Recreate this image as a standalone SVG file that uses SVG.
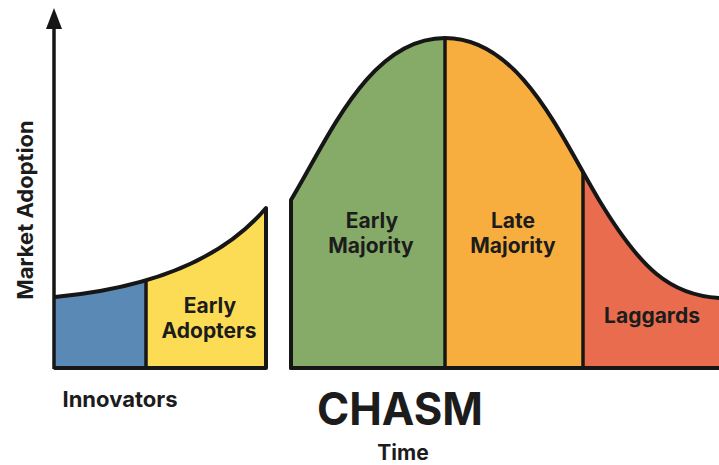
<svg xmlns="http://www.w3.org/2000/svg" width="719" height="465" viewBox="0 0 719 465">
  <style>
    .lbl { font-family: Inter, "Liberation Sans", sans-serif; font-weight: 700; fill: #1c1c1c; text-anchor: middle; }
    .seg { font-size: 21px; }
    .outline { fill: none; stroke: #161616; stroke-width: 4; stroke-linejoin: round; stroke-linecap: round; }
    .div { stroke: #161616; stroke-width: 3.5; }
  </style>
  <defs>
    <clipPath id="leftClip">
      <path d="M55,368 V297 C130,290 215,268 266,208 V368 Z"/>
    </clipPath>
    <clipPath id="bellClip">
      <path d="M291,368 V200 C330,135 370,38 445,38 C520,38 560,135 599,200 C640,268 670,296 719,298 V368 Z"/>
    </clipPath>
    <marker id="arrow" viewBox="0 0 10 10" refX="9" refY="5" markerWidth="6" markerHeight="6" markerUnits="strokeWidth" orient="auto">
      <path d="M0,0 L10,5 L0,10 Z" fill="#161616"/>
    </marker>
  </defs>

  <rect width="719" height="465" fill="#ffffff"/>

  <g id="innovators">
    <rect x="55" y="200" width="92" height="168" fill="#5B89B6" clip-path="url(#leftClip)"/>
    <text class="lbl" x="120" y="407" font-size="22">Innovators</text>
  </g>

  <g id="early-adopters">
    <rect x="147" y="200" width="119" height="168" fill="#FCDC55" clip-path="url(#leftClip)"/>
    <text class="lbl seg" x="210" y="313">Early</text>
    <text class="lbl seg" x="209" y="338">Adopters</text>
  </g>

  <g id="early-majority">
    <rect x="291" y="30" width="154" height="338" fill="#86AB69" clip-path="url(#bellClip)"/>
    <text class="lbl seg" x="372" y="228">Early</text>
    <text class="lbl seg" x="371" y="253">Majority</text>
  </g>

  <g id="late-majority">
    <rect x="445" y="30" width="138" height="338" fill="#F7AE3F" clip-path="url(#bellClip)"/>
    <text class="lbl seg" x="513" y="228">Late</text>
    <text class="lbl seg" x="513" y="253">Majority</text>
  </g>

  <g id="laggards">
    <rect x="583" y="150" width="136" height="218" fill="#E96C4E" clip-path="url(#bellClip)"/>
    <text class="lbl seg" x="652" y="323">Laggards</text>
  </g>

  <g id="outlines">
    <g clip-path="url(#leftClip)">
      <line class="div" x1="146" y1="368" x2="146" y2="260"/>
    </g>
    <g clip-path="url(#bellClip)">
      <line class="div" x1="445" y1="368" x2="445" y2="30"/>
      <line class="div" x1="583" y1="368" x2="583" y2="150"/>
    </g>
    <path class="outline" d="M55,297 C130,290 215,268 266,208 V368 H55"/>
    <path class="outline" d="M291,368 V200 C330,135 370,38 445,38 C520,38 560,135 599,200 C640,268 670,296 721,298"/>
    <line class="outline" x1="291" y1="368" x2="721" y2="368"/>
  </g>

  <g id="connectors">
    <line x1="54" y1="369" x2="54" y2="22" stroke="#161616" stroke-width="3.5"/>
    <path d="M54,8 L62,29 L46,29 Z" fill="#161616"/>
  </g>

  <g id="labels">
    <text class="lbl" x="0" y="0" font-size="22" transform="translate(33,210) rotate(-90)">Market Adoption</text>
    <text class="lbl" x="400" y="425" font-size="45" textLength="166" lengthAdjust="spacingAndGlyphs">CHASM</text>
    <text class="lbl" x="403" y="460" font-size="21">Time</text>
  </g>
</svg>
